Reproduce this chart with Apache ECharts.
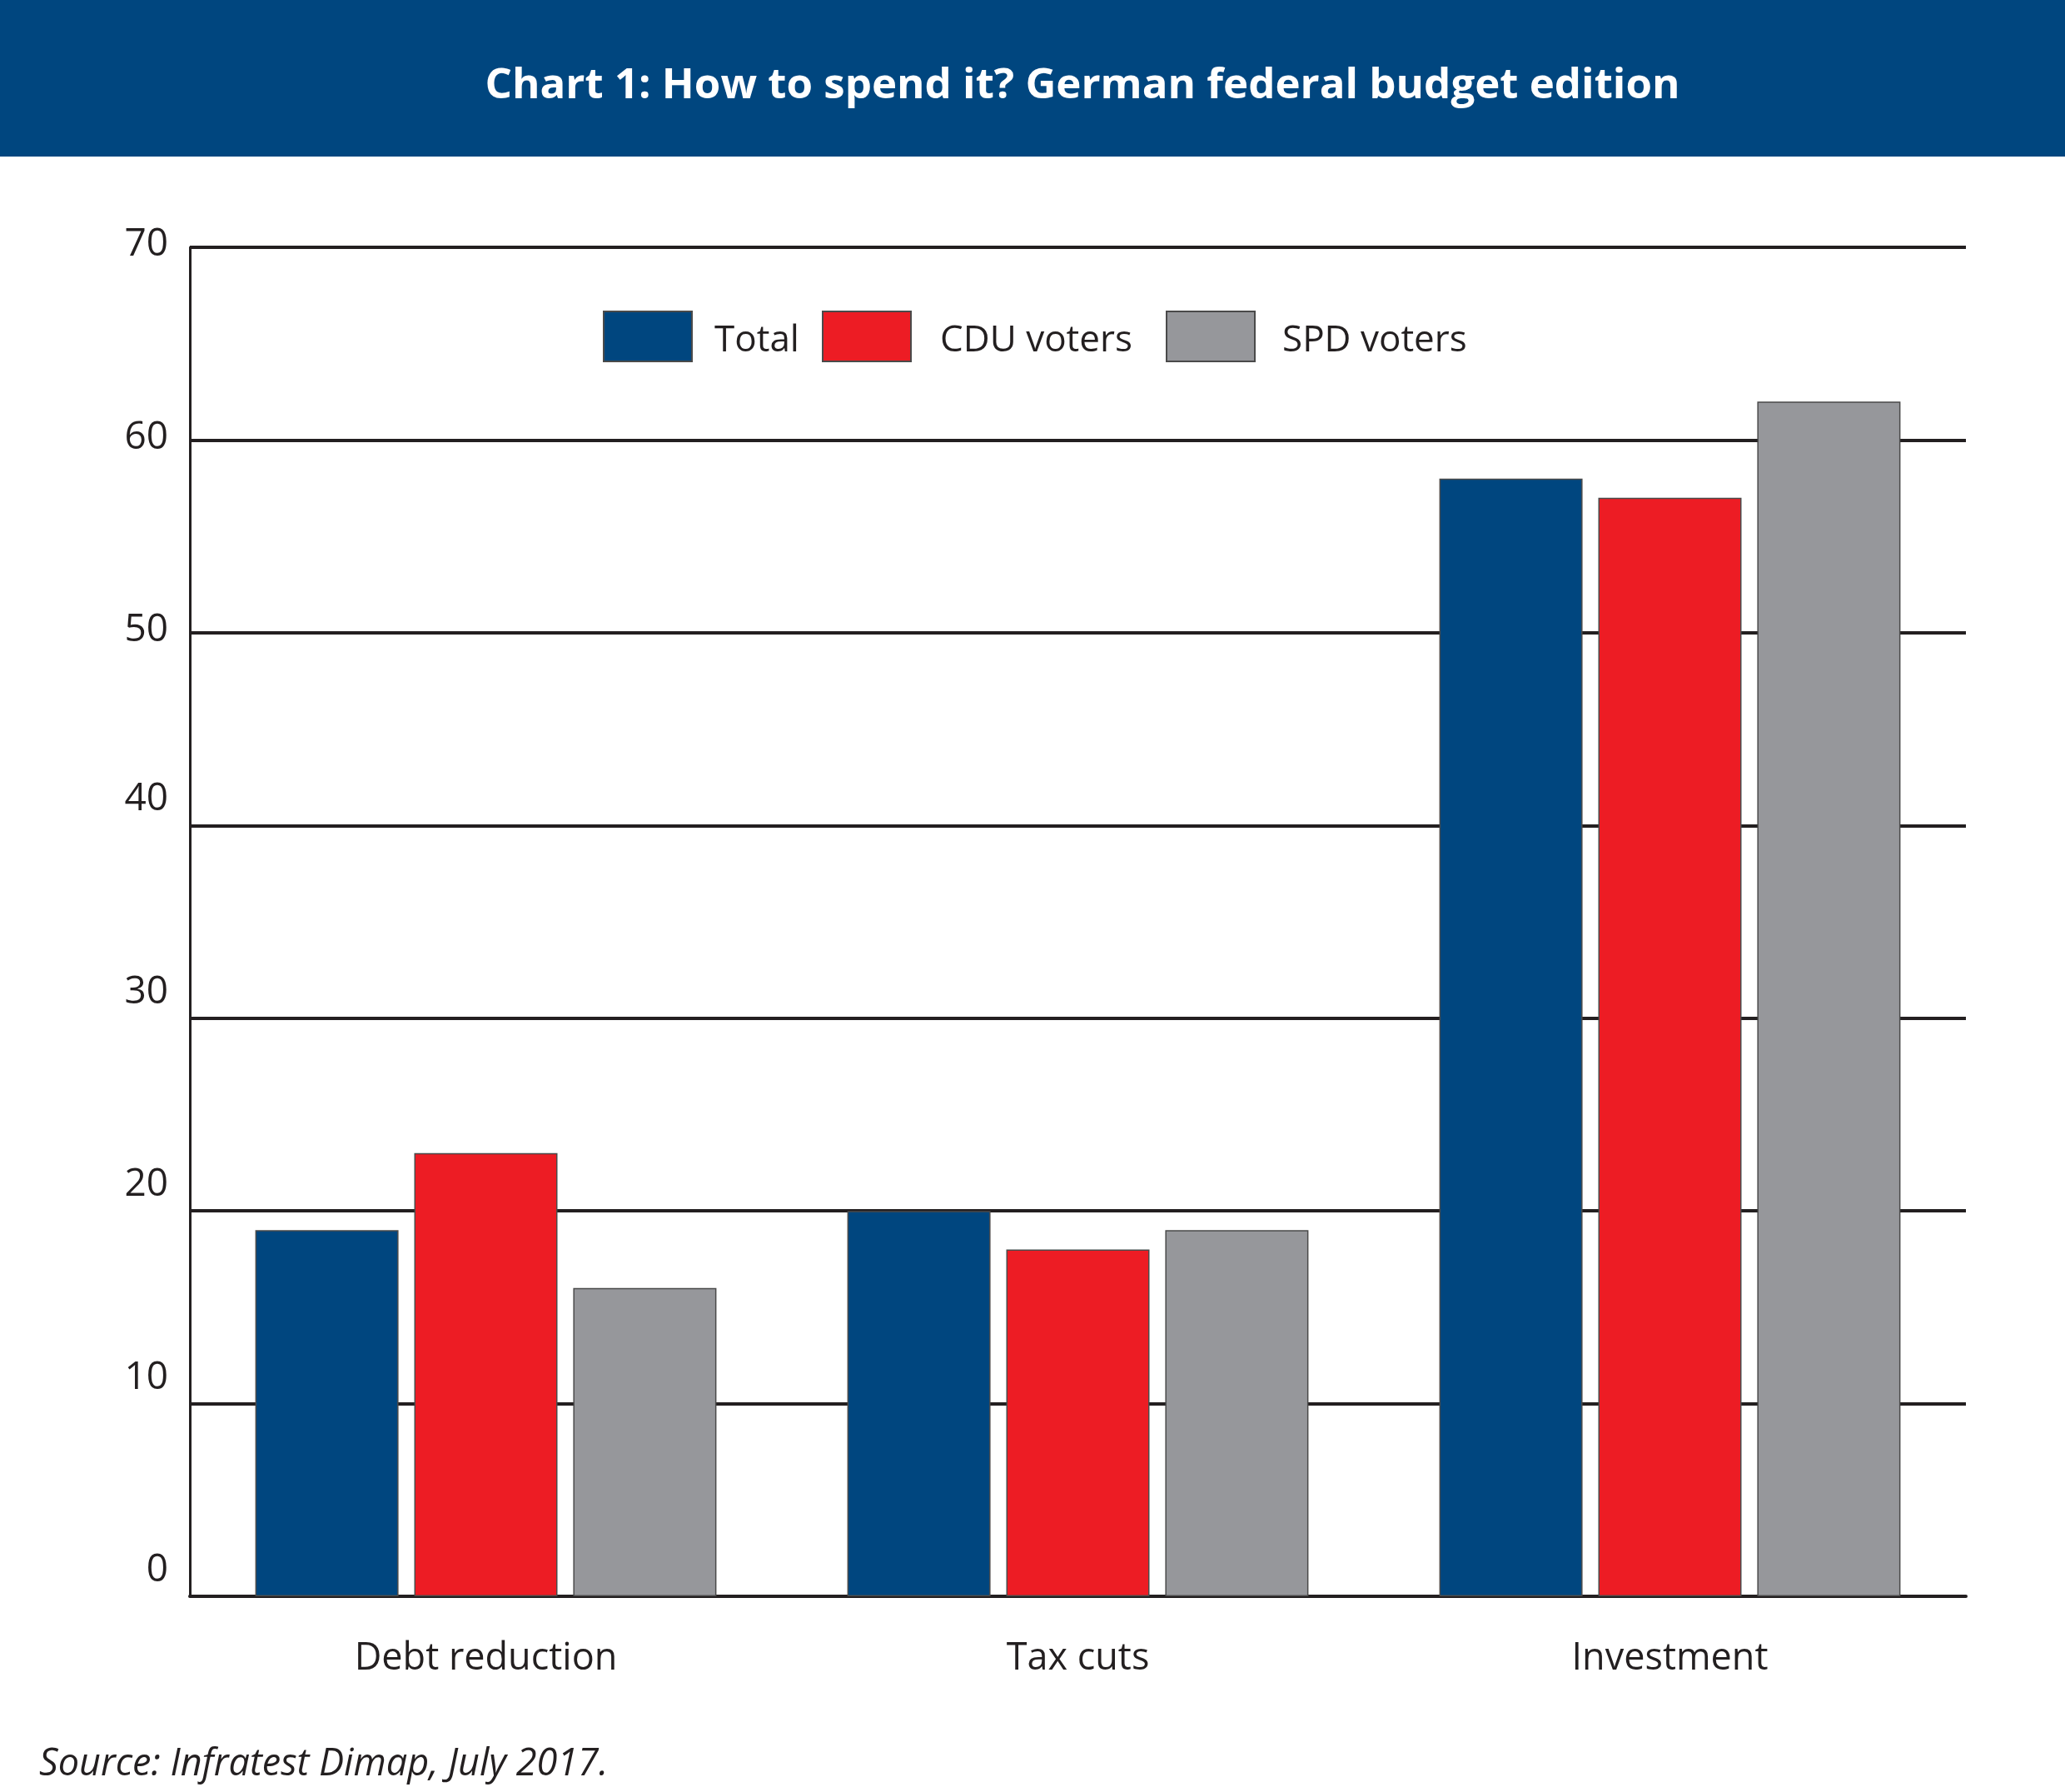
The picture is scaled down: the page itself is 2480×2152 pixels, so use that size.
<!DOCTYPE html>
<html>
<head>
<meta charset="utf-8">
<script src="https://cdn.jsdelivr.net/npm/echarts@6/dist/echarts.min.js"></script>
<style>
  html, body { margin: 0; padding: 0; background: #fff; }
  #main { width: 2480px; height: 2152px; }
</style>
</head>
<body>
<div id="main"></div>
<script>
// chart data
const categories = ['Debt reduction', 'Tax cuts', 'Investment'];
const seriesNames = ['Total', 'CDU voters', 'SPD voters'];
const total = [19, 20, 58];
const cduVoters = [23, 18, 57];
const spdVoters = [16, 19, 62];
const yTicks = [0, 10, 20, 30, 40, 50, 60, 70];

const NAVY = '#00467f';
const RED = '#ed1c24';
const GREY = '#96979b';
const INK = '#231f20';
const FONT = '"Open Sans", "Noto Sans", sans-serif';

const barStyle = color => ({
  color: color,
  borderColor: '#4a4a4a',
  borderWidth: 1.5
});

// one legend per item so each box sits where the original puts it
const legendAt = (name, left, gap) => ({
  data: [name],
  left: left,
  top: 373,
  padding: 0,
  itemWidth: 106,
  itemHeight: 60,
  icon: 'rect',
  formatter: n => '{a|' + n + '}',
  textStyle: {
    fontFamily: FONT, fontSize: 44, color: INK,
    rich: { a: { fontFamily: FONT, fontSize: 44, color: INK, padding: [10, 0, 0, gap] } }
  }
});

const myChart = echarts.init(document.getElementById('main'), null, { renderer: 'canvas' });

myChart.setOption({
  backgroundColor: '#fff',
  animation: false,
  graphic: [{
    type: 'rect',
    shape: { x: 0, y: 0, width: 2480, height: 188 },
    style: { fill: NAVY },
    z: -1
  }],
  title: [{
    text: 'Chart 1: How to spend it? German federal budget edition',
    left: 1295,
    top: 73,
    textAlign: 'center',
    textStyle: { fontFamily: FONT, fontWeight: 'bold', fontSize: 51, color: '#fff' }
  }, {
    text: 'Source: Infratest Dimap, July 2017.',
    left: 47,
    top: 2097,
    padding: 0,
    textStyle: { fontFamily: FONT, fontStyle: 'italic', fontWeight: 'normal', fontSize: 45, color: INK }
  }],
  legend: [
    legendAt(seriesNames[0], 724, 22),
    legendAt(seriesNames[1], 987, 30),
    legendAt(seriesNames[2], 1400, 28)
  ],
  grid: { left: 228, right: 119, top: 297, bottom: 235 },
  xAxis: {
    type: 'category',
    data: categories,
    axisLine: { lineStyle: { color: INK, width: 4 } },
    axisTick: { show: false },
    axisLabel: { fontFamily: FONT, fontSize: 45, color: INK, margin: 53 }
  },
  yAxis: {
    type: 'value',
    min: yTicks[0],
    max: yTicks[yTicks.length - 1],
    interval: 10,
    axisLine: { show: true, lineStyle: { color: INK, width: 3 } },
    axisTick: { show: false },
    splitLine: { lineStyle: { color: INK, width: 4 } },
    axisLabel: {
      fontFamily: FONT, fontSize: 46, color: INK, margin: 26,
      // the top three labels sit almost on their lines, the rest float above
      formatter: v => v >= 50 ? '{t|' + v + '}' : '{n|' + v + '}',
      rich: {
        n: { fontFamily: FONT, fontSize: 46, color: INK, padding: [0, 0, 62, 0] },
        t: { fontFamily: FONT, fontSize: 46, color: INK, padding: [0, 0, 6, 0] }
      }
    }
  },
  series: [
    { name: seriesNames[0], type: 'bar', data: total, barWidth: 172, barGap: '11%', itemStyle: barStyle(NAVY) },
    { name: seriesNames[1], type: 'bar', data: cduVoters, barWidth: 172, barGap: '11%', itemStyle: barStyle(RED) },
    { name: seriesNames[2], type: 'bar', data: spdVoters, barWidth: 172, barGap: '11%', itemStyle: barStyle(GREY) }
  ]
});
</script>
</body>
</html>
